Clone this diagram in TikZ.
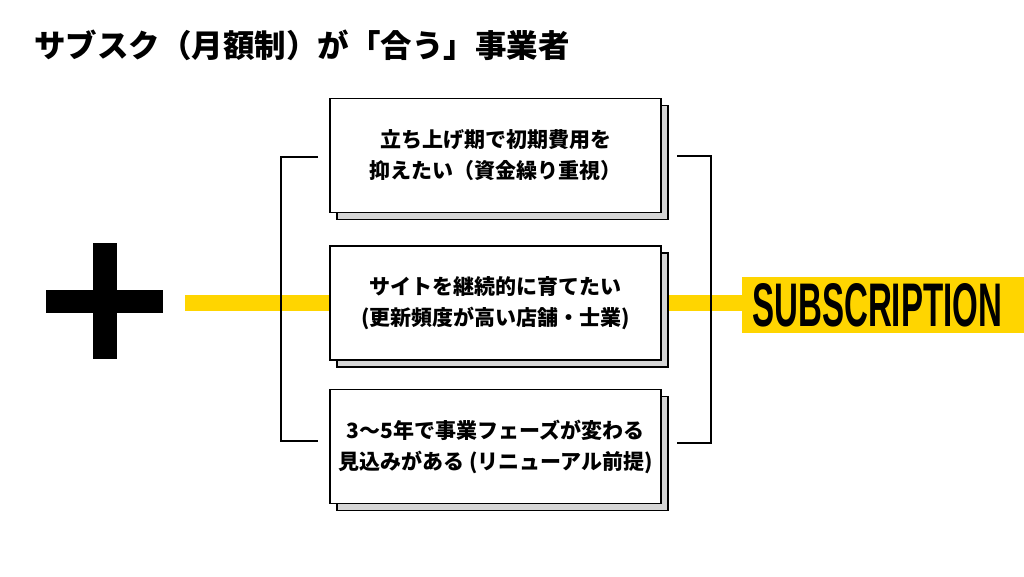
\documentclass[tikz,border=0pt]{standalone}
\usepackage{fontspec}
\setmainfont{Noto Sans CJK JP}
\newfontfamily\latinfont{Liberation Sans}
\usetikzlibrary{shadows,backgrounds}

\definecolor{subyellow}{HTML}{FFD500}
\definecolor{shadowgray}{HTML}{D6D6D6}

\tikzset{
  casebox/.style={draw=black, line width=1.8pt, fill=white,
    minimum width=331pt, minimum height=114pt, inner sep=0pt,
    align=center, font=\fontsize{21}{31}\selectfont\bfseries,
    copy shadow={shadow xshift=7pt, shadow yshift=-7pt,
      fill=shadowgray, draw=black, line width=1.5pt}},
  yellowbar/.style={draw=subyellow, line width=16pt},
  bracketline/.style={draw=black, line width=1.6pt},
}

\begin{document}
\begin{tikzpicture}[x=1pt, y=-1pt]
  \useasboundingbox (0,0) rectangle (1024,576);
  \begin{pgfonlayer}{background}
    \fill[white] (0,0) rectangle (1024,576);
  \end{pgfonlayer}

  % title
  \node[anchor=west, inner sep=0pt, font=\fontsize{31.5}{36}\selectfont\bfseries]
    (title) at (34,45) {サブスク（月額制）が「合う」事業者};

  % plus sign
  \fill[black] (93,243) rectangle (117,359);
  \fill[black] (46,290) rectangle (163,313);
  \coordinate (lstart) at (185,303);

  % cases
  \node[casebox] (startup) at (495.5,155.5) {立ち上げ期で初期費用を\\抑えたい（資金繰り重視）};
  \node[casebox] (grow)    at (495.5,303)   {サイトを継続的に育てたい\\(更新頻度が高い店舗・士業)};
  \node[casebox] (phase)   at (495.5,446.5) {3〜5年で事業フェーズが変わる\\見込みがある (リニューアル前提)};

  % label
  \node[anchor=west, fill=subyellow, inner sep=0pt, minimum height=56pt]
    (sub) at (742,305) {\kern10pt\resizebox{250pt}{43pt}{\latinfont\bfseries SUBSCRIPTION}\kern32pt};

  \begin{pgfonlayer}{background}
    \draw[yellowbar] (lstart) -- (grow.west);
    \draw[yellowbar] (grow.east) -- (grow.east -| sub.west);
  \end{pgfonlayer}

  % brackets
  \coordinate (lt) at (318,157);
  \coordinate (lb) at (318,441);
  \coordinate (rt) at (677,156);
  \coordinate (rb) at (677,443);
  \draw[bracketline] (lt) -- ++(-37,0) |- (lb);
  \draw[bracketline] (rt) -- ++(34,0) |- (rb);
\end{tikzpicture}
\end{document}
